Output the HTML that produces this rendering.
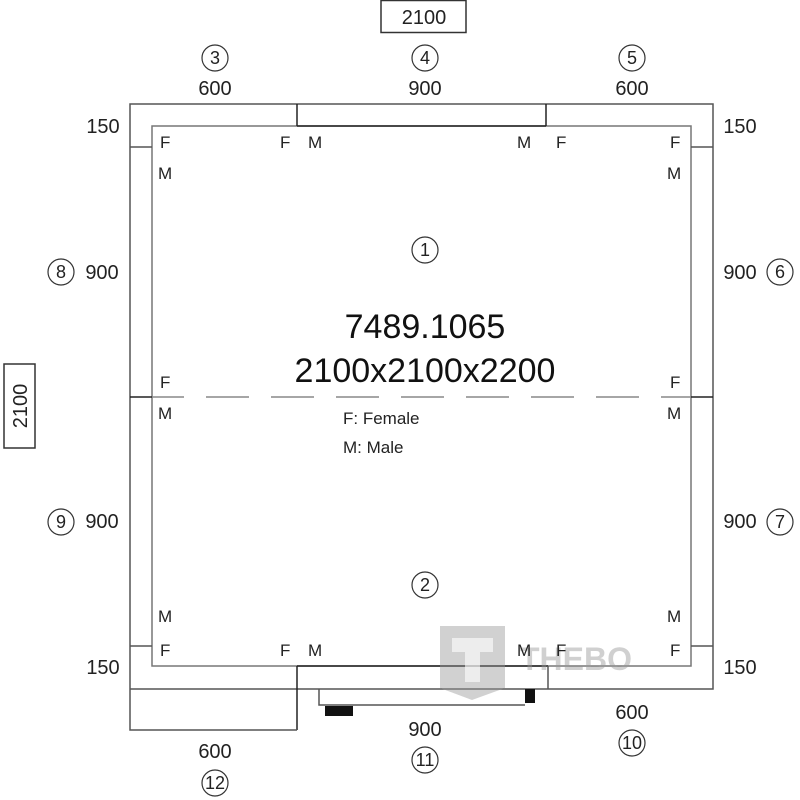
<!DOCTYPE html>
<html><head><meta charset="utf-8"><style>html,body{margin:0;padding:0;background:#fff}svg{display:block}</style></head><body>
<svg width="800" height="800" viewBox="0 0 800 800" xmlns="http://www.w3.org/2000/svg" font-family="Liberation Sans, sans-serif" fill="#222">
<g fill="none" stroke="#555" stroke-width="1.5">
<polyline points="130,689 130,104 713,104 713,689 130,689"/>
<rect x="152" y="126" width="539" height="540" stroke="#777"/>
<line x1="130" y1="147" x2="152" y2="147"/><line x1="691" y1="147" x2="713" y2="147"/>
<line x1="130" y1="646" x2="152" y2="646"/><line x1="691" y1="646" x2="713" y2="646"/>
<line x1="130" y1="397" x2="152" y2="397" stroke="#222"/><line x1="691" y1="397" x2="713" y2="397" stroke="#222"/>
<line x1="297" y1="104" x2="297" y2="126" stroke="#222"/><line x1="546" y1="104" x2="546" y2="126" stroke="#222"/>
<line x1="297" y1="126" x2="546" y2="126" stroke="#222"/>
<line x1="297" y1="666" x2="548" y2="666" stroke="#222"/>
<line x1="297" y1="666" x2="297" y2="730" stroke="#222"/><line x1="548" y1="666" x2="548" y2="689"/>
<polyline points="130,689 130,730 297,730"/>
<polyline points="319,689 319,705 525,705"/>
<rect x="4" y="364" width="31" height="84" stroke="#333"/>
<rect x="381" y="0.5" width="85" height="32" stroke="#333"/>
<line x1="152" y1="397" x2="691" y2="397" stroke="#888" stroke-dasharray="43 22" stroke-dashoffset="11"/>
</g>
<rect x="325" y="706" width="28" height="10" fill="#111"/>
<rect x="525" y="689" width="10" height="14" fill="#111"/>
<g opacity="0.45" fill="#999">
<path d="M440,626 H505 V688 L472,700 L440,688 Z"/>
<text x="520" y="670" font-size="32" font-weight="bold">THEBO</text>
</g>
<path d="M452,638 H493 V652 H480 V682 H465 V652 H452 Z" fill="#fff" opacity="0.6"/>
<g font-size="20" text-anchor="middle">
<text x="424" y="24">2100</text>
<text x="215" y="95">600</text><text x="425" y="95">900</text><text x="632" y="95">600</text>
<text x="103" y="133">150</text><text x="740" y="133">150</text>
<text x="103" y="674">150</text><text x="740" y="674">150</text>
<text x="102" y="279">900</text><text x="102" y="528">900</text>
<text x="740" y="279">900</text><text x="740" y="528">900</text>
<text x="425" y="736">900</text><text x="632" y="719">600</text><text x="215" y="758">600</text>
<text transform="translate(27,406) rotate(-90)">2100</text>
</g>
<g fill="none" stroke="#333" stroke-width="1.2">
<circle cx="215" cy="58" r="13"/><circle cx="425" cy="58" r="13"/><circle cx="632" cy="58" r="13"/>
<circle cx="61" cy="272" r="13"/><circle cx="61" cy="522" r="13"/>
<circle cx="780" cy="272" r="13"/><circle cx="780" cy="522" r="13"/>
<circle cx="425" cy="250" r="13"/><circle cx="425" cy="585" r="13"/>
<circle cx="425" cy="760" r="13"/><circle cx="632" cy="743" r="13"/><circle cx="215" cy="783" r="13"/>
</g>
<g font-size="18" text-anchor="middle">
<text x="215" y="64">3</text><text x="425" y="64">4</text><text x="632" y="64">5</text>
<text x="61" y="278">8</text><text x="61" y="528">9</text>
<text x="780" y="278">6</text><text x="780" y="528">7</text>
<text x="425" y="256">1</text><text x="425" y="591">2</text>
<text x="425" y="766">11</text><text x="632" y="749">10</text><text x="215" y="789">12</text>
</g>
<g font-size="17">
<text x="160" y="148">F</text><text x="280" y="148">F</text><text x="308" y="148">M</text>
<text x="517" y="148">M</text><text x="556" y="148">F</text><text x="670" y="148">F</text>
<text x="158" y="179">M</text><text x="667" y="179">M</text>
<text x="160" y="388">F</text><text x="670" y="388">F</text>
<text x="158" y="419">M</text><text x="667" y="419">M</text>
<text x="158" y="622">M</text><text x="667" y="622">M</text>
<text x="160" y="656">F</text><text x="280" y="656">F</text><text x="308" y="656">M</text>
<text x="517" y="656">M</text><text x="556" y="656">F</text><text x="670" y="656">F</text>
<text x="343" y="424">F: Female</text><text x="343" y="453">M: Male</text>
</g>
<g font-size="34" text-anchor="middle" fill="#111">
<text x="425" y="338">7489.1065</text>
<text x="425" y="382">2100x2100x2200</text>
</g>
</svg>
</body></html>
